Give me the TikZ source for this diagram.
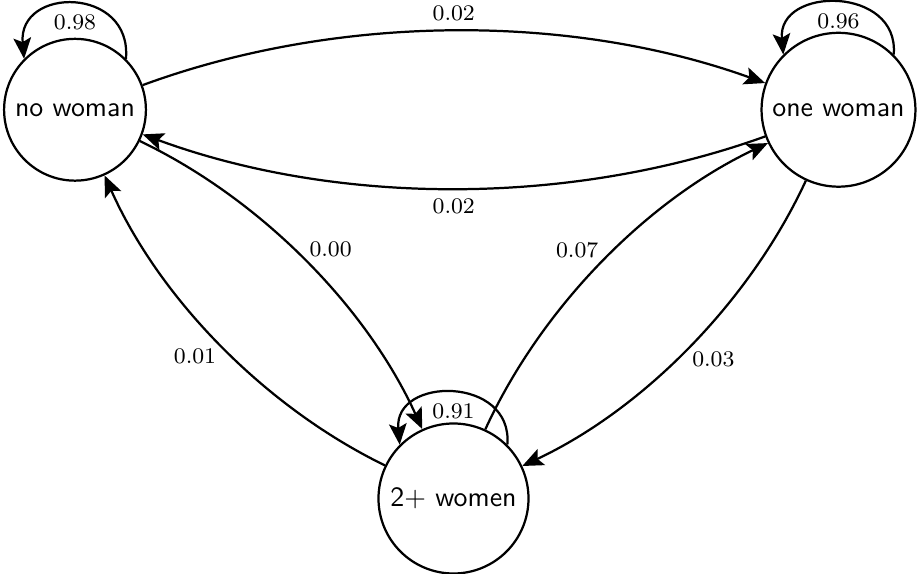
\documentclass[tikz,border=0pt]{standalone}
\usetikzlibrary{arrows.meta}
\begin{document}
\begin{tikzpicture}[x=0.35842pt,y=0.35842pt,
  state/.style={circle,draw,thick,font=\sffamily},
  trans/.style={-{Stealth[length=7.5pt,width=6.3pt,inset=1.5pt]},thick},
  bendl/.style={bend left=20,looseness=0.85},
  lbl/.style={font=\footnotesize,auto,midway},
  dlbl/.style={lbl,inner sep=1pt}]
\useasboundingbox (0,0) rectangle (917,-574);
\node[state] (n0) at (75,-109.75) {no woman};
\node[state] (n1) at (838.5,-109.75) {one woman};
\node[state] (n2) at (453.5,-498.5) {2$+$ women};
\draw[trans] (n0) to[bendl] node[lbl] {0.02} (n1);
\draw[trans] (n1) to[bendl] node[lbl] {0.02} (n0);
\draw[trans] (n0) to[bendl] node[dlbl] {0.00} (n2);
\draw[trans] (n2) to[bendl] node[dlbl] {0.01} (n0);
\draw[trans] (n2) to[bendl] node[dlbl] {0.07} (n1);
\draw[trans] (n1) to[bendl] node[dlbl] {0.03} (n2);
\draw[trans] (n0.45) .. controls +(85:73) and +(95:73) .. node[lbl] {0.98} (n0.135);
\draw[trans] (n1.45) .. controls +(85:69) and +(95:69) .. node[lbl] {0.96} (n1.135);
\draw[trans] (n2.45) .. controls +(85:69) and +(95:69) .. node[lbl] {0.91} (n2.135);
\end{tikzpicture}
\end{document}
